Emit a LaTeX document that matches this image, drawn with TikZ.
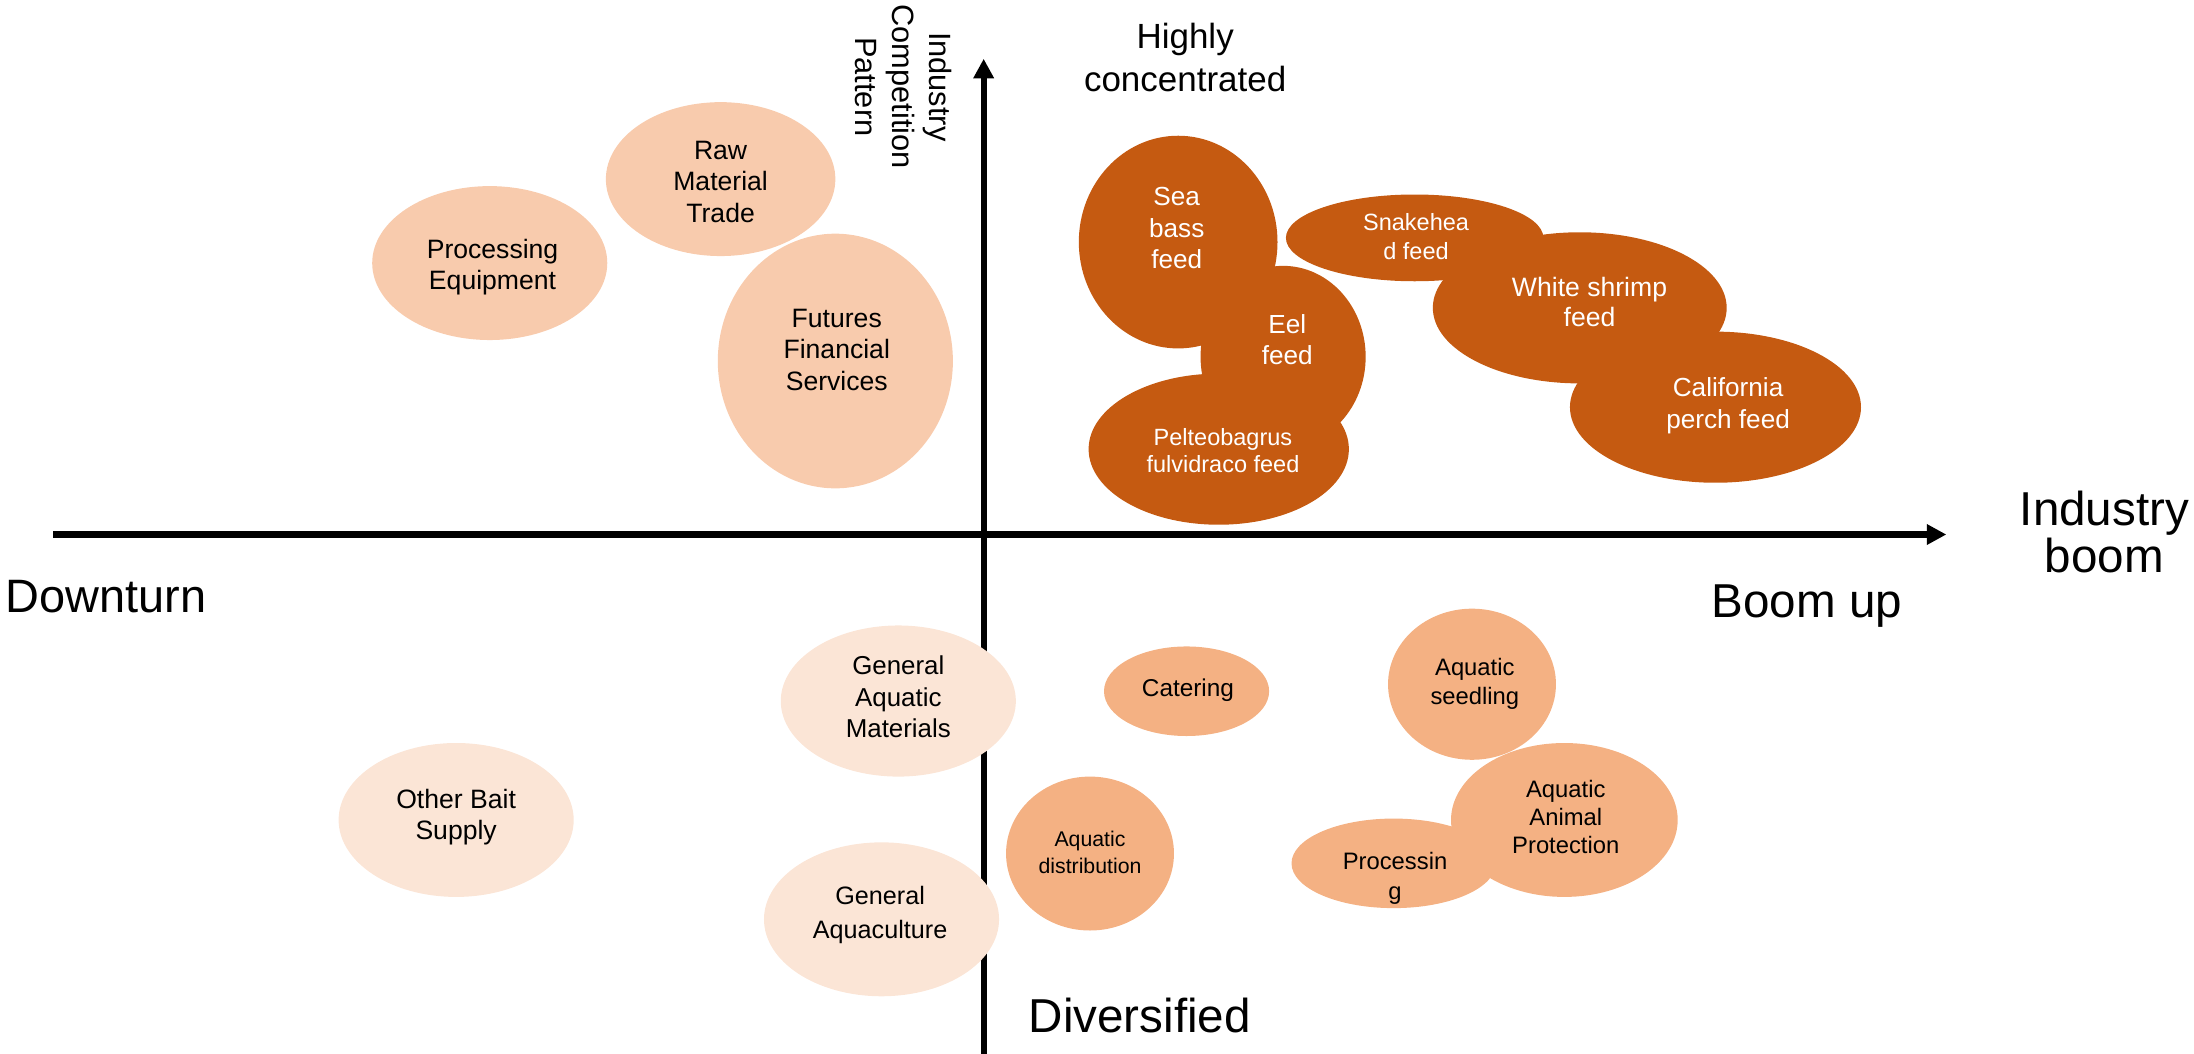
\documentclass[tikz,border=0pt]{standalone}
\usepackage{fontspec}
\setmainfont{Liberation Sans}
\usetikzlibrary{shapes.geometric,arrows.meta}
\definecolor{lightpeach}{HTML}{F8CBAD}
\definecolor{palepeach}{HTML}{FBE5D6}
\definecolor{midpeach}{HTML}{F4B183}
\definecolor{darkorange}{HTML}{C55A11}
\tikzset{
  blob/.style={ellipse, draw=none, inner sep=0pt},
  lbl/.style={align=center, inner sep=0pt},
  axisline/.style={line width=4.5pt, -{Triangle[length=14pt,width=14pt]}},
  bigtxt/.style={inner sep=0pt, font=\fontsize{34}{40}\selectfont},
}
\newcommand{\fs}[2]{\fontsize{#1}{#2}\selectfont}
\begin{document}
\begin{tikzpicture}[x=1pt,y=-1pt]
\useasboundingbox (0,0) rectangle (1568,753);
% axes
\coordinate (xs) at (38,382);
\coordinate (xe) at (1391,382);
\coordinate (ys) at (703,753);
\coordinate (ye) at (703,42);
\draw[axisline] (xs) -- (xe);
\draw[axisline] (ys) -- (ye);

% top-left light ellipses
\node[blob, fill=lightpeach, minimum width=168pt, minimum height=110pt] (procequip) at (350,188) {};
\node[blob, fill=lightpeach, minimum width=164pt, minimum height=110pt] (rawmat) at (515,128) {};
\node[blob, fill=lightpeach, minimum width=168pt, minimum height=182pt] (futures) at (597,258) {};
\node[lbl, font=\fs{19}{22.6}] (procequipT) at (352,191) {Processing\\Equipment};
\node[lbl, font=\fs{19}{22.6}] (rawmatT) at (515,130) {Raw\\Material\\Trade};
\node[lbl, font=\fs{19}{22.6}] (futuresT) at (598,250) {Futures\\Financial\\Services};

% top-right dark ellipses
\node[blob, fill=darkorange, minimum width=142pt, minimum height=152pt] (seabass) at (842,173) {};
\node[blob, fill=darkorange, minimum width=118pt, minimum height=130pt] (eel) at (917,255) {};
\node[blob, fill=darkorange, minimum width=186pt, minimum height=108pt] (pelteo) at (871,321) {};
\node[blob, fill=darkorange, minimum width=184pt, minimum height=62pt] (snake) at (1011,170) {};
\node[blob, fill=darkorange, minimum width=210pt, minimum height=108pt] (white) at (1129,220) {};
\node[blob, fill=darkorange, minimum width=208pt, minimum height=108pt] (calif) at (1226,291) {};
\node[lbl, text=white, font=\fs{18.7}{22.6}] (seabassT) at (841,163) {Sea\\bass\\feed};
\node[lbl, text=white, font=\fs{18.7}{22.2}] (eelT) at (920,243) {Eel\\feed};
\node[lbl, text=white, font=\fs{16.8}{19}] (pelteoT) at (874,322) {Pelteobagrus\\fulvidraco feed};
\node[lbl, text=white, font=\fs{16.8}{20.8}] (snakeT) at (1012,169) {Snakehea\\d feed};
\node[lbl, text=white, font=\fs{19}{21.4}] (whiteT) at (1136,216) {White shrimp\\feed};
\node[lbl, text=white, font=\fs{18.7}{23.1}] (califT) at (1235,290) {California\\perch feed};

% bottom medium ellipses
\node[blob, fill=midpeach, minimum width=118pt, minimum height=64pt] (catering) at (848,494) {};
\node[blob, fill=midpeach, minimum width=120pt, minimum height=108pt] (seedling) at (1052,489) {};
\node[blob, fill=midpeach, minimum width=120pt, minimum height=110pt] (distrib) at (779,610) {};
\node[blob, fill=midpeach, minimum width=162pt, minimum height=110pt] (animal) at (1118,586) {};
\node[blob, fill=midpeach, minimum width=146pt, minimum height=64pt] (processing) at (996,617) {};
\node[lbl, font=\fs{17.4}{20}] (cateringT) at (849,493) {Catering};
\node[lbl, font=\fs{17}{20.7}] (seedlingT) at (1054,489) {Aquatic\\seedling};
\node[lbl, font=\fs{15.2}{19}] (distribT) at (779,609) {Aquatic\\distribution};
\node[lbl, font=\fs{17}{20.2}] (animalT) at (1119,584) {Aquatic\\Animal\\Protection};
\node[lbl, font=\fs{17}{21.4}] (processingT) at (997,628) {Processin\\g};

% bottom pale ellipses
\node[blob, fill=palepeach, minimum width=168pt, minimum height=108pt] (genmat) at (642,501) {};
\node[blob, fill=palepeach, minimum width=168pt, minimum height=110pt] (genaqua) at (630,657) {};
\node[blob, fill=palepeach, minimum width=168pt, minimum height=110pt] (otherbait) at (326,586) {};
\node[lbl, font=\fs{18.5}{22.6}] (genmatT) at (642,498) {General\\Aquatic\\Materials};
\node[lbl, font=\fs{18}{23.9}] (genaquaT) at (629,654) {General\\Aquaculture};
\node[lbl, font=\fs{19}{22.6}] (otherbaitT) at (326,584) {Other Bait\\Supply};

% axis labels
\node[bigtxt, font=\fs{33.5}{40}, anchor=base west] (downturn) at (4,438) {Downturn};
\node[bigtxt, anchor=base west] (boomup) at (1223,441) {Boom up};
\node[bigtxt, align=center, font=\fs{34}{34}, anchor=base] (indboom) at (1504,409.5) {Industry\\boom};
\node[bigtxt, anchor=base west] (divers) at (735,738) {Diversified};
\node[inner sep=0pt, align=center, font=\fs{25}{31}, anchor=base] (highly) at (847,65.5) {Highly\\concentrated};
\node[inner sep=0pt, align=center, font=\fs{22}{26.5}, rotate=-90] (compet) at (646,62) {Industry\\Competition\\Pattern};
\end{tikzpicture}
\end{document}
